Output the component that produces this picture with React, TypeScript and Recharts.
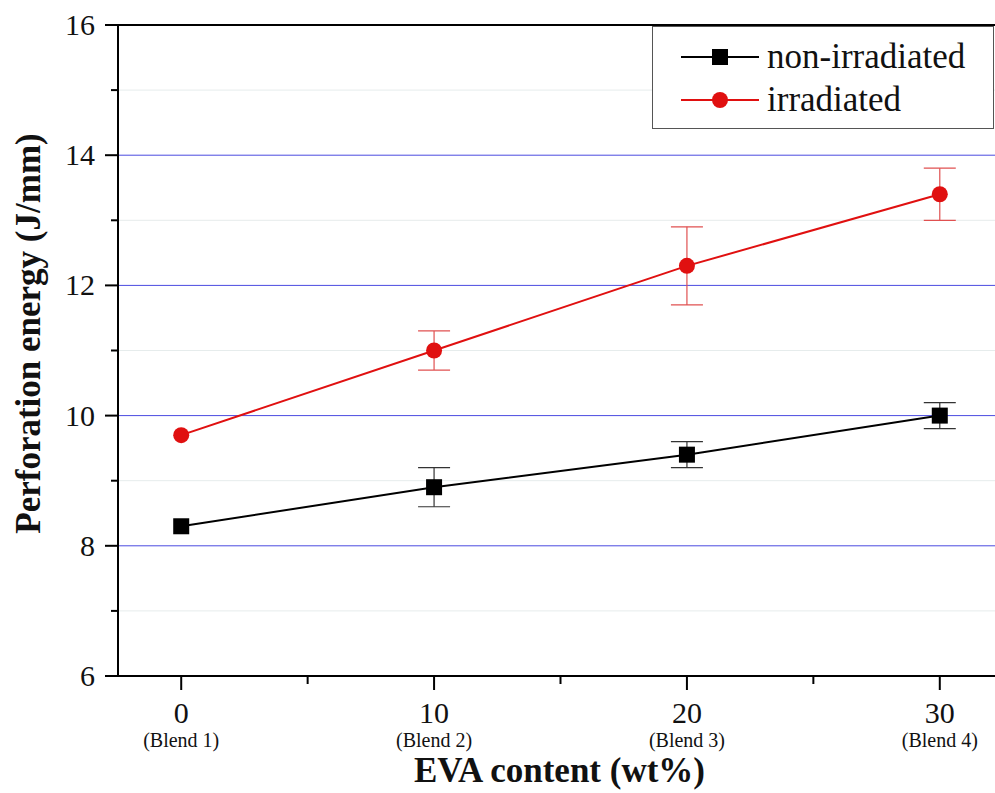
import React from 'react';
import { LineChart, Line, XAxis, YAxis, ReferenceLine, ErrorBar, Legend } from 'recharts';

const evaContent = [0, 10, 20, 30];
const blendNames = ['(Blend 1)', '(Blend 2)', '(Blend 3)', '(Blend 4)'];
const nonIrradiated = [8.3, 8.9, 9.4, 10.0];
const nonIrradiatedErr = [0, 0.3, 0.2, 0.2];
const irradiated = [9.7, 11.0, 12.3, 13.4];
const irradiatedErr = [0, 0.3, 0.6, 0.4];
const xTicks = [0, 5, 10, 15, 20, 25, 30];
const yTicks = [6, 7, 8, 9, 10, 11, 12, 13, 14, 15, 16];
const majorGrid = [8, 10, 12, 14];
const minorGrid = [7, 9, 11, 13, 15];

const data = evaContent.map((x, i) => ({
  x,
  nonIrr: nonIrradiated[i],
  nonIrrErr: nonIrradiatedErr[i],
  irr: irradiated[i],
  irrErr: irradiatedErr[i],
}));

const FONT = "'Liberation Serif', 'Times New Roman', serif";

const XTick = (props: any) => {
  const { x, y, payload } = props;
  const v = payload.value;
  const major = v % 10 === 0;
  const idx = evaContent.indexOf(v);
  return (
    <g>
      <line x1={x} x2={x} y1={y} y2={y + (major ? 14 : 8)} stroke="#000" strokeWidth={2} />
      {major && (
        <text x={x} y={y + 47} textAnchor="middle" fontSize={30} fontFamily={FONT} fill="#111">
          {v}
        </text>
      )}
      {major && idx >= 0 && (
        <text x={x} y={y + 71} textAnchor="middle" fontSize={20} fontFamily={FONT} fill="#111">
          {blendNames[idx]}
        </text>
      )}
    </g>
  );
};

const YTick = (props: any) => {
  const { x, y, payload } = props;
  const v = payload.value;
  const major = v % 2 === 0;
  return (
    <g>
      <line x1={x} x2={x - (major ? 13 : 7)} y1={y} y2={y} stroke="#000" strokeWidth={2} />
      {major && (
        <text x={x - 23} y={y + 10} textAnchor="end" fontSize={30} fontFamily={FONT} fill="#111">
          {v}
        </text>
      )}
    </g>
  );
};

const Square = (props: any) => {
  const { cx, cy } = props;
  if (cx == null || cy == null) return null;
  return <rect x={cx - 8} y={cy - 8} width={16} height={16} fill="#000" />;
};

const LegendBox = () => (
  <div
    style={{
      width: 342,
      height: 103,
      border: '1.5px solid #555',
      background: '#fff',
      boxSizing: 'border-box',
      fontFamily: FONT,
      fontSize: 35,
      color: '#111',
      paddingTop: 8,
    }}
  >
    {[
      { name: 'non-irradiated', color: '#000', square: true },
      { name: 'irradiated', color: '#e01010', square: false },
    ].map((it) => (
      <div key={it.name} style={{ display: 'flex', alignItems: 'center', height: 43 }}>
        <svg width={116} height={30} style={{ marginLeft: 24 }}>
          <line x1={4} x2={82} y1={15} y2={15} stroke={it.color} strokeWidth={2} />
          {it.square ? (
            <rect x={35} y={7} width={16} height={16} fill={it.color} />
          ) : (
            <circle cx={43} cy={15} r={8} fill={it.color} />
          )}
        </svg>
        <span style={{ marginLeft: -26, lineHeight: '43px' }}>{it.name}</span>
      </div>
    ))}
  </div>
);

const App = () => {
  return (
    <div
      style={{
        position: 'absolute',
        left: 0,
        top: 0,
        width: 995,
        height: 793,
        overflow: 'hidden',
        background: '#fff',
      }}
    >
      <LineChart width={1010} height={793} data={data} margin={{ top: 25, right: 7, bottom: 0, left: 0 }}>
        {minorGrid.map((v) => (
          <ReferenceLine key={'mi' + v} y={v} stroke="#e6ecec" strokeWidth={1} />
        ))}
        {majorGrid.map((v) => (
          <ReferenceLine key={'ma' + v} y={v} stroke="#4a4ae0" strokeWidth={1} />
        ))}
        <ReferenceLine y={16} stroke="#000" strokeWidth={2} />
        <XAxis
          type="number"
          dataKey="x"
          domain={[-2.5, 32.5]}
          ticks={xTicks}
          interval={0}
          height={117}
          tickSize={0}
          tickMargin={0}
          tickLine={false}
          axisLine={{ stroke: '#000', strokeWidth: 2 }}
          tick={<XTick />}
          label={{
            content: (p: any) => {
              const vb = p.viewBox || {};
              const cx = (vb.x ?? 118) + (vb.width ?? 885) / 2 - 1;
              return (
                <text
                  x={cx}
                  y={782}
                  textAnchor="middle"
                  fontFamily={FONT}
                  fontSize={35}
                  fontWeight="bold"
                  fill="#111"
                >
                  EVA content (wt%)
                </text>
              );
            },
          }}
        />
        <YAxis
          type="number"
          domain={[6, 16]}
          ticks={yTicks}
          interval={0}
          width={118}
          tickSize={0}
          tickMargin={0}
          tickLine={false}
          axisLine={{ stroke: '#000', strokeWidth: 2 }}
          tick={<YTick />}
          label={{
            content: (p: any) => {
              const vb = p.viewBox || {};
              const cy = (vb.y ?? 25) + (vb.height ?? 651) / 2 - 17;
              return (
                <text
                  transform={`translate(40, ${cy}) rotate(-90)`}
                  textAnchor="middle"
                  fontFamily={FONT}
                  fontSize={35}
                  fontWeight="bold"
                  fill="#111"
                >
                  Perforation energy (J/mm)
                </text>
              );
            },
          }}
        />
        <Legend
          layout="vertical"
          align="center"
          verticalAlign="middle"
          wrapperStyle={{ top: 26, left: 652, width: 342, height: 103 }}
          content={() => <LegendBox />}
        />
        <Line
          dataKey="nonIrr"
          name="non-irradiated"
          stroke="#000"
          strokeWidth={2}
          dot={<Square />}
          activeDot={false}
          isAnimationActive={false}
        >
          <ErrorBar dataKey="nonIrrErr" width={16} stroke="#333" strokeWidth={1.2} direction="y" />
        </Line>
        <Line
          dataKey="irr"
          name="irradiated"
          stroke="#e01010"
          strokeWidth={2}
          dot={{ r: 8, fill: '#e01010', stroke: '#e01010', strokeWidth: 0 }}
          activeDot={false}
          isAnimationActive={false}
        >
          <ErrorBar dataKey="irrErr" width={16} stroke="#e05050" strokeWidth={1.2} direction="y" />
        </Line>
      </LineChart>
    </div>
  );
};

export default App;
